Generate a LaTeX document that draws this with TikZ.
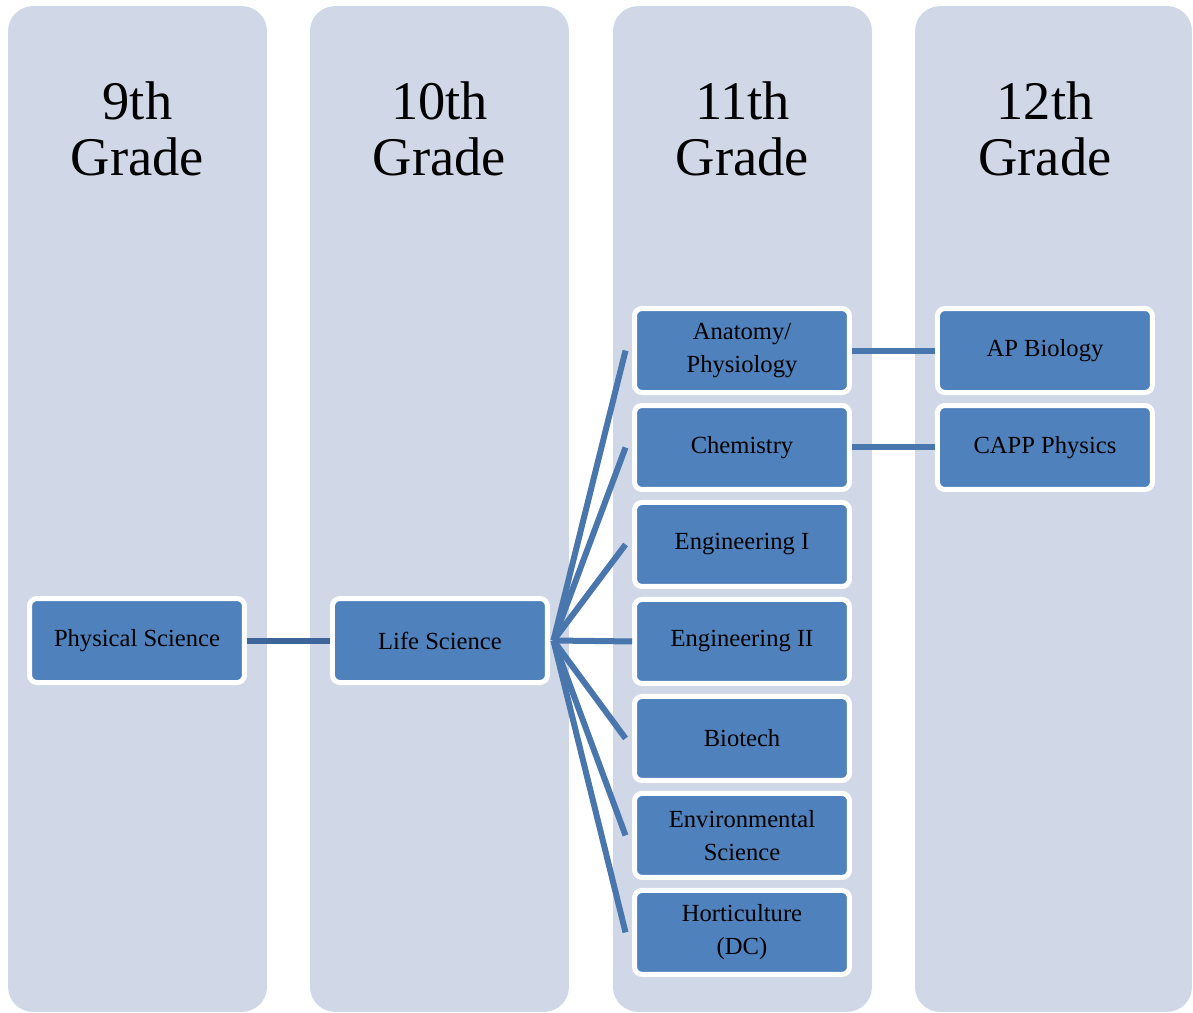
\documentclass[tikz,border=0pt]{standalone}
\usepackage{fontspec}
\setmainfont{Liberation Serif}
\usetikzlibrary{positioning,calc}
\definecolor{panelbg}{HTML}{D0D8E8}
\definecolor{boxblue}{HTML}{4F81BD}
\definecolor{linkblue}{HTML}{4A76AE}
\definecolor{linkdark}{HTML}{3D6599}
\tikzset{
	column/.style={
		rectangle,
		fill=panelbg,
		rounded corners=0.5cm,
		minimum width=5.18cm,
		minimum height=20.12cm,
	},
	heading/.style={
		align=center,
		font=\fontsize{31}{31.5}\selectfont,
	},
	course/.style={
		rectangle,
		fill=boxblue,
		draw=white,
		line width=0.1cm,
		rounded corners=0.15cm,
		minimum width=4.3cm,
		minimum height=1.68cm,
		align=center,
		font=\fontsize{14}{18.7}\selectfont,
	},
	link/.style={
		draw=linkblue,
		line width=0.12cm,
	}
}

\begin{document}
\begin{tikzpicture}[x=0.02cm,y=-0.02cm,node distance=0.16cm and 1.66cm]
	\useasboundingbox (0,0) rectangle (1193,1012);

	% grade columns
	\node [column] (c9) at (137.5,509) {};
	\node [column] (c10) at (439.5,509) {};
	\node [column] (c11) at (742.5,509) {};
	\node [column,minimum width=5.54cm] (c12) at (1053.5,509) {};

	\node [heading] (h9) at (137.5,129) {9th\\Grade};
	\node [heading] (h10) at (439.5,129) {10th\\Grade};
	\node [heading] (h11) at (742.5,129) {11th\\Grade};
	\node [heading] (h12) at (1045,129) {12th\\Grade};

	% courses
	\node [course] (phys) at (137,640.5) {Physical Science};
	\node [course,right=of phys] (life) {Life Science};

	\node [course] (anat) at (742,350.5) {Anatomy/\\Physiology};
	\node [course,below=of anat] (chem) {Chemistry};
	\node [course,below=of chem] (eng1) {Engineering I};
	\node [course,below=of eng1] (eng2) {Engineering II};
	\node [course,below=of eng2] (bio) {Biotech};
	\node [course,below=of bio] (env) {Environmental\\Science};
	\node [course,below=of env] (hort) {Horticulture\\(DC)};

	\node [course,right=of anat] (apbio) {AP Biology};
	\node [course,right=of chem] (capp) {CAPP Physics};

	% connectors
	\draw [link,draw=linkdark] (phys) -- (life);
	\coordinate [right=0.07cm of life] (fan);
	\foreach \c in {anat,chem,eng1,bio,env,hort}
		\draw [link] (fan) -- ($(\c.west)+(-0.13cm,0)$);
	\draw [link] (fan) -- (eng2.west);
	\draw [link] (anat) -- (apbio);
	\draw [link] (chem) -- (capp);
\end{tikzpicture}
\end{document}
